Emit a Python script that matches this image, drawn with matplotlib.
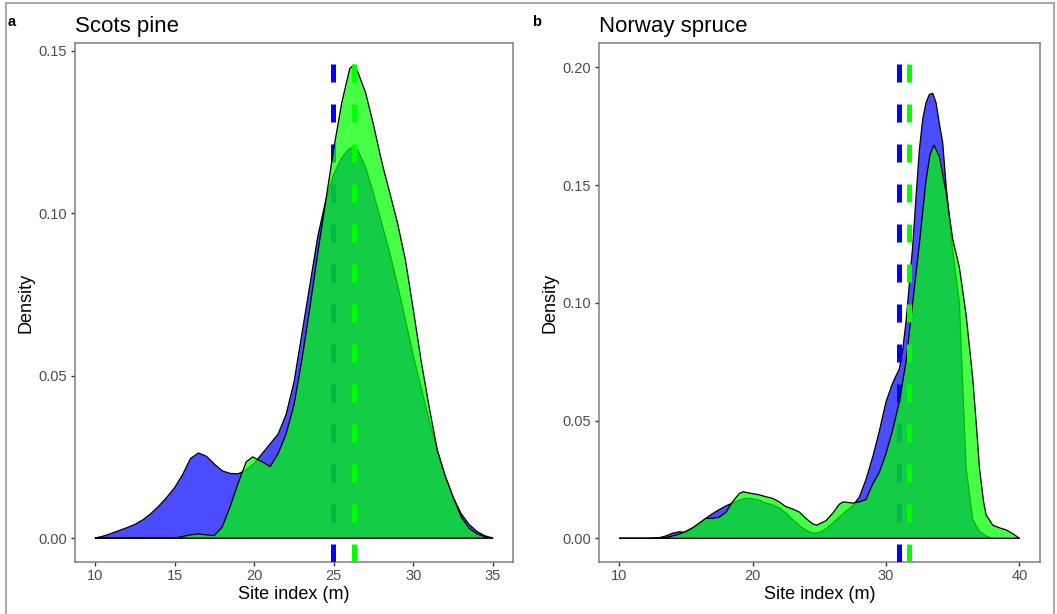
import matplotlib
matplotlib.use("Agg")
import matplotlib.pyplot as plt
from matplotlib.lines import Line2D

plt.rcParams['font.family'] = ['Liberation Sans', 'DejaVu Sans']

# Scots pine densities
xa_blue = [10, 10.5, 11, 11.5, 12, 12.5, 13, 13.5, 14, 14.5, 15, 15.5, 16, 16.5, 17, 17.5,
           18, 18.5, 19, 19.5, 20, 20.5, 21, 21.5, 22, 22.5, 23, 23.5, 24, 24.5, 25, 25.5,
           26, 26.5, 27, 27.5, 28, 28.5, 29, 29.5, 30, 30.5, 31, 31.5, 32, 32.5, 33, 33.5,
           34, 34.5, 35]
ya_blue = [0, 0.0006, 0.0014, 0.0023, 0.0032, 0.0042, 0.0056, 0.0075, 0.0098, 0.0125, 0.0155,
           0.0195, 0.0245, 0.0262, 0.0252, 0.0228, 0.0207, 0.0199, 0.0198, 0.021, 0.023, 0.026,
           0.029, 0.032, 0.038, 0.048, 0.063, 0.078, 0.093, 0.104, 0.112, 0.117, 0.120, 0.1195,
           0.114, 0.106, 0.097, 0.088, 0.078, 0.067, 0.056, 0.046, 0.036, 0.027, 0.019, 0.0125,
           0.0075, 0.0042, 0.002, 0.0007, 0]
xa_green = [10, 15, 15.5, 16, 16.5, 17, 17.5, 18, 18.5, 19, 19.5, 19.9, 20.5, 21, 21.5, 22,
            22.5, 23, 23.5, 24, 24.5, 25, 25.5, 26, 26.25, 26.5, 27, 27.5, 28, 28.5, 29, 29.5,
            30, 30.5, 31, 31.5, 32, 32.5, 33, 33.5, 34, 34.5, 35]
ya_green = [0, 0, 0.0005, 0.001, 0.0013, 0.001, 0.0008, 0.0035, 0.0098, 0.017, 0.0235, 0.025,
            0.0235, 0.022, 0.026, 0.032, 0.041, 0.055, 0.071, 0.088, 0.104, 0.120, 0.134,
            0.1445, 0.1456, 0.1435, 0.137, 0.127, 0.116, 0.1065, 0.097, 0.0855, 0.070, 0.054,
            0.040, 0.027, 0.019, 0.0125, 0.0065, 0.003, 0.0013, 0.0004, 0]

# Norway spruce densities
xb_blue = [10, 12, 12.5, 13, 13.5, 14, 14.5, 15, 15.5, 16, 16.5, 17, 17.5, 18, 18.5, 19, 19.5,
           20, 20.5, 21, 21.5, 22, 22.5, 23, 23.5, 24, 24.5, 25, 25.5, 26, 26.5, 27, 27.5, 28,
           28.5, 29, 29.5, 30, 30.5, 31, 31.25, 31.5, 31.75, 32, 32.25, 32.5, 32.75, 33, 33.25,
           33.5, 33.75, 34, 34.25, 34.5, 35, 35.5, 35.75, 36, 36.5, 37, 37.5, 38, 40]
yb_blue = [0, 0, 0.0001, 0.0003, 0.001, 0.0022, 0.0028, 0.0025, 0.004, 0.006, 0.0085, 0.0105,
           0.0122, 0.0138, 0.015, 0.0162, 0.017, 0.0168, 0.0162, 0.015, 0.0142, 0.013, 0.0108,
           0.008, 0.0055, 0.0035, 0.0022, 0.0025, 0.004, 0.0065, 0.009, 0.0115, 0.0138, 0.0175,
           0.025, 0.0345, 0.0455, 0.058, 0.066, 0.072, 0.080, 0.092, 0.108, 0.124, 0.145, 0.165,
           0.178, 0.185, 0.1885, 0.189, 0.185, 0.176, 0.168, 0.150, 0.122, 0.100, 0.065, 0.030,
           0.008, 0.003, 0.001, 0, 0]
xb_green = [10, 13, 13.5, 14, 14.5, 15, 15.5, 16, 16.5, 17, 17.5, 18, 18.5, 19, 19.3, 20, 20.5,
            21, 21.5, 22, 22.5, 23, 23.5, 24, 24.5, 24.8, 25.5, 26, 26.5, 26.8, 27.5, 28, 28.5,
            29, 29.5, 30, 30.5, 31, 31.5, 32, 32.5, 32.87, 33, 33.3, 33.6, 34, 34.5, 35, 35.5,
            36, 36.5, 36.8, 37, 37.3, 37.5, 38, 38.5, 39, 39.5, 40]
yb_green = [0, 0, 0.0003, 0.001, 0.0018, 0.003, 0.0045, 0.0065, 0.0085, 0.0085, 0.009, 0.011,
            0.0155, 0.019, 0.0198, 0.019, 0.0185, 0.0177, 0.017, 0.0155, 0.0135, 0.0125, 0.0112,
            0.0085, 0.0062, 0.0056, 0.0075, 0.0106, 0.0145, 0.0155, 0.015, 0.0155, 0.0165, 0.023,
            0.028, 0.036, 0.046, 0.058, 0.075, 0.100, 0.125, 0.145, 0.152, 0.163, 0.167, 0.162,
            0.147, 0.127, 0.115, 0.095, 0.068, 0.046, 0.030, 0.016, 0.010, 0.0056, 0.0045,
            0.0036, 0.002, 0]

# group means (dashed lines)
mean_a = [24.95, 26.25]
mean_b = [31.0, 31.7]

panels = [
    dict(tag='a', title='Scots pine', xb=xa_blue, yb=ya_blue, xg=xa_green, yg=ya_green,
         means=mean_a, xlim=(8.75, 36.25), ylim=(-0.00725, 0.15225),
         xticks=[10, 15, 20, 25, 30, 35], yticks=[0.00, 0.05, 0.10, 0.15],
         rect=[75 / 1057, 52.3 / 614, 438 / 1057, 518.4 / 614]),
    dict(tag='b', title='Norway spruce', xb=xb_blue, yb=yb_blue, xg=xb_green, yg=yb_green,
         means=mean_b, xlim=(8.5, 41.5), ylim=(-0.0099, 0.2102),
         xticks=[10, 20, 30, 40], yticks=[0.00, 0.05, 0.10, 0.15, 0.20],
         rect=[599 / 1057, 52.3 / 614, 440.5 / 1057, 518.4 / 614]),
]

fig = plt.figure(figsize=(10.57, 6.14), dpi=100)

for p in panels:
    ax = fig.add_axes(p['rect'])
    ax.fill(p['xb'], p['yb'], facecolor=(0, 0, 1, 0.7), edgecolor='black', linewidth=0.9, zorder=2)
    ax.axvline(p['means'][0], color='#0000FF', linewidth=3.6, dashes=(3.6, 4.4), zorder=3)
    ax.fill(p['xg'], p['yg'], facecolor=(0, 1, 0, 0.72), edgecolor='black', linewidth=0.9, zorder=4)
    ax.axvline(p['means'][1], color='#00FF00', linewidth=3.6, dashes=(3.6, 4.4), zorder=5)

    ax.set_xlim(*p['xlim'])
    ax.set_ylim(*p['ylim'])
    ax.set_xticks(p['xticks'])
    ax.set_yticks(p['yticks'])
    ax.set_yticklabels(['%.2f' % v for v in p['yticks']])
    ax.tick_params(length=3, width=1, color='#333333', labelcolor='#4D4D4D',
                   labelsize=10.5, pad=2.5)
    for s in ax.spines.values():
        s.set_color('#7F7F7F')
        s.set_linewidth(1.1)
    ax.set_xlabel('Site index (m)', fontsize=13, labelpad=2)
    ax.set_ylabel('Density', fontsize=13, labelpad=3)
    ax.set_title(p['title'], fontsize=16, loc='left', pad=8)
    l, b, w, h = p['rect']
    fig.text(l - 67 / 1057, 1 - 22 / 614, p['tag'], fontsize=10.5, fontweight='bold',
             va='center', ha='left')

# light grey frame around the figure
frame = dict(color='#AAAAAA', linewidth=1.5, transform=fig.transFigure)
fig.add_artist(Line2D([5.5 / 1057, 5.5 / 1057], [0, 1 - 3 / 614], **frame))
fig.add_artist(Line2D([5.5 / 1057, 1053.5 / 1057], [1 - 3 / 614, 1 - 3 / 614], **frame))
fig.add_artist(Line2D([1053.5 / 1057, 1053.5 / 1057], [0, 1 - 3 / 614], **frame))

fig.savefig('out.png', dpi=100)
